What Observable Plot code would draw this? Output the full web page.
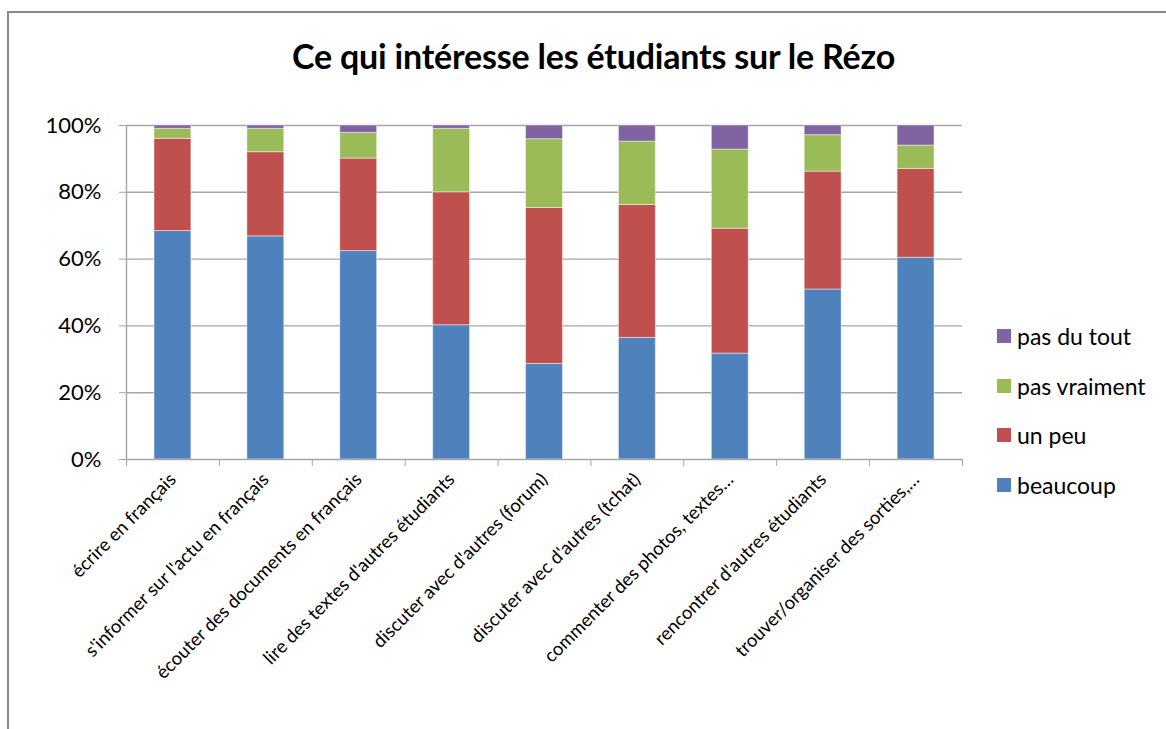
<!DOCTYPE html>
<html><head><meta charset="utf-8">
<script src="https://cdn.jsdelivr.net/npm/d3@7"></script>
<script src="https://cdn.jsdelivr.net/npm/@observablehq/plot@0.6"></script>
<style>
body{margin:0;background:#fff;}
#wrap{position:relative;width:1166px;height:729px;overflow:hidden;font-family:Lato,sans-serif;color:#000;}
#border{position:absolute;left:7px;top:11px;width:1200px;height:800px;border-left:2px solid #8a8a8a;border-top:2px solid #8a8a8a;}
#title{position:absolute;left:0;width:1187px;top:35px;text-align:center;font-weight:bold;font-size:34px;letter-spacing:-0.2px;}
#plot{position:absolute;left:0;top:0;}
#legend{position:absolute;left:997px;top:311px;}
.item{display:flex;align-items:center;height:49.7px;font-size:23px;}
.sw{width:14px;height:14px;margin-right:6px;flex:none;}
</style></head>
<body>
<div id="wrap">
  <div id="border"></div>
  <div id="plot"></div>
  <div id="title">Ce qui intéresse les étudiants sur le Rézo</div>
  <div id="legend"></div>
</div>
<script>
const categories = [
  "écrire en français",
  "s'informer sur l'actu en français",
  "écouter des documents en français",
  "lire des textes d'autres étudiants",
  "discuter avec d'autres (forum)",
  "discuter avec d'autres (tchat)",
  "commenter des photos, textes…",
  "rencontrer d'autres étudiants",
  "trouver/organiser des sorties,…"
];
const series = ["beaucoup", "un peu", "pas vraiment", "pas du tout"];
const colors = ["#4F81BD", "#C0504D", "#9BBB59", "#8064A2"];
const beaucoup    = [68.4, 66.8, 62.4, 40.2, 28.6, 36.4, 31.7, 50.9, 60.4];
const unPeu       = [27.6, 25.2, 27.7, 39.8, 46.7, 39.8, 37.4, 35.3, 26.6];
const pasVraiment = [ 3.0,  7.0,  7.7, 19.0, 20.6, 19.0, 23.7, 10.9,  7.0];
const pasDuTout   = [ 1.0,  1.0,  2.2,  1.0,  4.1,  4.8,  7.2,  2.9,  6.0];
const yTicks = [0, 20, 40, 60, 80, 100];

const values = [beaucoup, unPeu, pasVraiment, pasDuTout];
const rows = [];
categories.forEach((c, i) => {
  let acc = 0;
  series.forEach((s, k) => {
    const v = values[k][i];
    rows.push({i, cat: c, series: s, y1: acc, y2: acc + v});
    acc += v;
  });
});

const chart = Plot.plot({
  width: 1166,
  height: 729,
  marginLeft: 126,
  marginRight: 204,
  marginTop: 125,
  marginBottom: 270,
  style: {fontFamily: "Lato, sans-serif", fontSize: "22px", color: "#000", background: "transparent"},
  x: {type: "linear", domain: [0, categories.length]},
  y: {domain: [0, 100]},
  color: {domain: series, range: colors},
  marks: [
    Plot.ruleY(yTicks.filter(t => t > 0), {stroke: "#a6a6a6", strokeWidth: 1.4}),
    Plot.rectY(rows, {x1: "i", x2: d => d.i + 1, y1: "y1", y2: "y2", fill: "series",
      insetLeft: 28, insetRight: 28, stroke: "white", strokeOpacity: 0.45, strokeWidth: 1}),
    Plot.ruleY([0], {stroke: "#a6a6a6", strokeWidth: 1.4}),
    Plot.ruleX([0], {stroke: "#a6a6a6", strokeWidth: 1.4}),
    Plot.axisY({ticks: yTicks, tickFormat: d => d + "%", tickSize: 7, tickPadding: 18, label: null, stroke: "#a6a6a6", fontSize: 22}),
    Plot.axisX({ticks: d3.range(categories.length + 1), tickFormat: () => "", tickSize: 7, label: null, stroke: "#a6a6a6"}),
    Plot.axisX({ticks: d3.range(categories.length).map(i => i + 0.5), tickFormat: d => categories[Math.floor(d)],
      tickSize: 0, tickPadding: 17, tickRotate: -45, label: null, fontSize: 18.5})
  ]
});
document.getElementById("plot").appendChild(chart);

const legend = document.getElementById("legend");
series.slice().reverse().forEach((s) => {
  const k = series.indexOf(s);
  const item = document.createElement("div");
  item.className = "item";
  const sw = document.createElement("span");
  sw.className = "sw";
  sw.style.background = colors[k];
  const tx = document.createElement("span");
  tx.textContent = s;
  item.appendChild(sw); item.appendChild(tx);
  legend.appendChild(item);
});
</script>
</body></html>
